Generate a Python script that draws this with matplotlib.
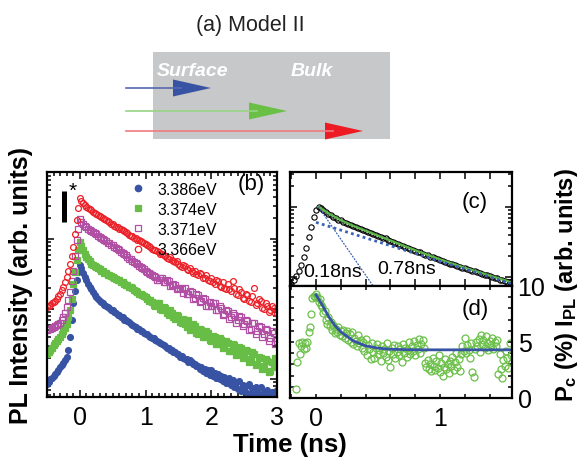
import numpy as np
import matplotlib
matplotlib.use('Agg')
from matplotlib import pyplot as plt
from matplotlib.ticker import MultipleLocator, LogLocator, NullFormatter, FixedLocator
from matplotlib.patches import Rectangle, Polygon

plt.rcParams['font.family'] = ['Liberation Sans', 'DejaVu Sans']
plt.rcParams['mathtext.fontset'] = 'custom'
plt.rcParams['mathtext.rm'] = 'Liberation Sans:bold'
plt.rcParams['mathtext.it'] = 'Liberation Sans:bold'
plt.rcParams['mathtext.bf'] = 'Liberation Sans:bold'

# ---- panel (b): PL transients, log10 of intensity (arb. units) ----
t_b = np.round(np.arange(-0.5, 3.001, 0.025), 3)
labels_b = ['3.386eV', '3.374eV', '3.371eV', '3.366eV']

log_3386 = [-0.07, -0.04, 0.00, 0.02, 0.05, 0.07, 0.10, 0.13, 0.17, 0.20,
            0.23, 0.27, 0.31, 0.42, 0.60, 0.84, 1.08, 1.26, 1.41, 1.53,
            1.63, 1.58, 1.52, 1.46, 1.41, 1.36, 1.32, 1.28, 1.24, 1.20,
            1.17, 1.15, 1.12, 1.10, 1.08, 1.06, 1.04, 1.03, 1.01, 0.99,
            0.98, 0.96, 0.95, 0.92, 0.91, 0.89, 0.88, 0.85, 0.84, 0.83,
            0.81, 0.78, 0.77, 0.76, 0.74, 0.71, 0.71, 0.69, 0.68, 0.66,
            0.65, 0.64, 0.62, 0.60, 0.59, 0.58, 0.56, 0.55, 0.53, 0.51,
            0.50, 0.49, 0.47, 0.44, 0.44, 0.41, 0.41, 0.38, 0.38, 0.36,
            0.36, 0.32, 0.33, 0.30, 0.29, 0.28, 0.25, 0.27, 0.24, 0.21,
            0.22, 0.18, 0.19, 0.14, 0.17, 0.12, 0.14, 0.09, 0.13, 0.06,
            0.13, 0.05, 0.08, 0.02, 0.07, 0.00, 0.04, -0.03, 0.03, -0.06,
            -0.04, 0.02, -0.09, -0.02, -0.12, -0.05, -0.14, -0.03, -0.17, -0.08,
            -0.16, -0.10, -0.20, -0.07, -0.22, -0.13, -0.24, -0.11, -0.19, -0.23,
            -0.12, -0.24, -0.18, -0.25, -0.15, -0.22, -0.24, -0.19, -0.25, -0.21,
            -0.15]
log_3374 = [0.36, 0.39, 0.42, 0.45, 0.48, 0.51, 0.54, 0.57, 0.60, 0.64,
            0.68, 0.73, 0.79, 0.88, 0.98, 1.15, 1.36, 1.53, 1.70, 1.84,
            1.96, 1.90, 1.84, 1.79, 1.74, 1.71, 1.68, 1.65, 1.63, 1.61,
            1.60, 1.58, 1.57, 1.55, 1.54, 1.52, 1.51, 1.49, 1.48, 1.47,
            1.46, 1.44, 1.43, 1.42, 1.41, 1.39, 1.38, 1.36, 1.35, 1.34,
            1.32, 1.31, 1.30, 1.27, 1.26, 1.24, 1.22, 1.22, 1.20, 1.18,
            1.17, 1.14, 1.12, 1.13, 1.10, 1.06, 1.05, 1.09, 1.08, 1.00,
            0.98, 1.03, 1.02, 0.94, 0.92, 0.98, 0.95, 0.88, 0.86, 0.92,
            0.90, 0.82, 0.80, 0.86, 0.78, 0.74, 0.84, 0.70, 0.72, 0.78,
            0.76, 0.66, 0.64, 0.72, 0.70, 0.60, 0.60, 0.68, 0.66, 0.56,
            0.55, 0.62, 0.60, 0.50, 0.50, 0.58, 0.56, 0.44, 0.46, 0.54,
            0.52, 0.40, 0.40, 0.50, 0.48, 0.34, 0.38, 0.46, 0.44, 0.30,
            0.34, 0.42, 0.40, 0.24, 0.28, 0.38, 0.36, 0.20, 0.22, 0.32,
            0.30, 0.14, 0.18, 0.28, 0.26, 0.10, 0.12, 0.24, 0.20, 0.30,
            0.17]
log_3371 = [0.70, 0.71, 0.72, 0.73, 0.75, 0.76, 0.77, 0.78, 0.80, 0.84,
            0.88, 0.95, 1.03, 1.13, 1.25, 1.40, 1.55, 1.76, 1.98, 2.15,
            2.29, 2.25, 2.22, 2.19, 2.17, 2.15, 2.13, 2.12, 2.10, 2.09,
            2.07, 2.05, 2.03, 2.02, 2.00, 1.99, 1.97, 1.95, 1.94, 1.92,
            1.91, 1.89, 1.87, 1.86, 1.84, 1.82, 1.80, 1.79, 1.77, 1.74,
            1.72, 1.71, 1.69, 1.67, 1.66, 1.64, 1.62, 1.60, 1.58, 1.57,
            1.55, 1.53, 1.52, 1.50, 1.49, 1.47, 1.46, 1.42, 1.42, 1.45,
            1.44, 1.38, 1.38, 1.42, 1.40, 1.33, 1.34, 1.36, 1.35, 1.28,
            1.30, 1.30, 1.28, 1.23, 1.30, 1.22, 1.22, 1.26, 1.25, 1.14,
            1.16, 1.21, 1.20, 1.10, 1.12, 1.16, 1.14, 1.04, 1.05, 1.10,
            1.04, 1.08, 1.08, 0.98, 0.98, 1.04, 1.02, 0.92, 0.93, 0.99,
            0.97, 0.86, 0.88, 0.94, 0.92, 0.80, 0.84, 0.90, 0.88, 0.76,
            0.78, 0.84, 0.83, 0.70, 0.72, 0.80, 0.80, 0.64, 0.68, 0.76,
            0.74, 0.60, 0.64, 0.72, 0.70, 0.54, 0.58, 0.68, 0.66, 0.50,
            0.55]
log_3366 = [1.03, 1.04, 1.06, 1.08, 1.10, 1.12, 1.15, 1.18, 1.22, 1.27,
            1.32, 1.38, 1.46, 1.55, 1.65, 1.76, 1.89, 2.07, 2.27, 2.44,
            2.58, 2.55, 2.52, 2.49, 2.46, 2.45, 2.43, 2.41, 2.39, 2.37,
            2.36, 2.35, 2.33, 2.32, 2.30, 2.28, 2.27, 2.26, 2.24, 2.22,
            2.21, 2.19, 2.17, 2.17, 2.15, 2.14, 2.13, 2.11, 2.10, 2.08,
            2.06, 2.05, 2.04, 2.02, 2.01, 1.99, 1.98, 1.97, 1.96, 1.94,
            1.93, 1.92, 1.90, 1.88, 1.86, 1.85, 1.84, 1.83, 1.82, 1.79,
            1.78, 1.77, 1.76, 1.73, 1.72, 1.74, 1.70, 1.68, 1.67, 1.69,
            1.65, 1.62, 1.60, 1.63, 1.62, 1.57, 1.56, 1.59, 1.54, 1.51,
            1.55, 1.50, 1.48, 1.52, 1.50, 1.45, 1.44, 1.48, 1.42, 1.40,
            1.45, 1.38, 1.36, 1.42, 1.40, 1.33, 1.32, 1.38, 1.30, 1.28,
            1.36, 1.28, 1.26, 1.40, 1.30, 1.22, 1.20, 1.28, 1.24, 1.16,
            1.15, 1.22, 1.20, 1.12, 1.10, 1.18, 1.30, 1.06, 1.08, 1.14,
            1.12, 1.02, 1.00, 1.08, 1.05, 0.96, 0.98, 1.04, 1.02, 0.94,
            0.95]

# ---- panel (c): normalised PL at 3.386 eV with bi-exponential fit ----
t_c = np.round(np.arange(-0.2, 1.5801, 0.02), 2)
log_c = [-1.10, -1.05, -0.99, -0.92, -0.83, -0.72, -0.58, -0.43, -0.28, -0.14,
         -0.05, 0.00, -0.02, -0.05, -0.07, -0.10, -0.12, -0.14, -0.16, -0.18,
         -0.19, -0.21, -0.23, -0.24, -0.26, -0.27, -0.29, -0.30, -0.31, -0.33,
         -0.34, -0.36, -0.37, -0.38, -0.40, -0.41, -0.43, -0.44, -0.45, -0.47,
         -0.48, -0.50, -0.51, -0.53, -0.54, -0.56, -0.57, -0.58, -0.60, -0.61,
         -0.63, -0.64, -0.65, -0.67, -0.68, -0.69, -0.71, -0.72, -0.73, -0.75,
         -0.76, -0.77, -0.78, -0.80, -0.81, -0.82, -0.83, -0.84, -0.86, -0.87,
         -0.88, -0.89, -0.90, -0.91, -0.92, -0.93, -0.95, -0.96, -0.97, -0.98,
         -0.99, -1.00, -1.01, -1.02, -1.04, -1.05, -1.06, -1.07, -1.08, -1.09]
fit_t = [0.02, 0.1, 0.2, 0.3, 0.4, 0.6, 0.8, 1.0, 1.2, 1.4, 1.58]
fit_log = [0.0, -0.09, -0.19, -0.27, -0.34, -0.48, -0.62, -0.75, -0.87, -0.98, -1.08]
fast_t = [0.02, 0.46]
fast_log = [0.0, -1.13]
slow_t = [0.0, 1.58]
slow_log = [-0.22, -1.10]

# ---- panel (d): circular polarisation Pc (%) ----
t_d = np.round(np.arange(-0.16, 1.5801, 0.01), 2)
pc_d = [0.8, 3.2, 4.9, 3.9, 4.6, 5.0, 4.4, 4.9, 4.5, 5.0, 5.9, 6.3, 7.5,
        8.9, 9.1, 9.0, 9.3, 9.0, 8.6, 8.8, 8.3, 8.1, 7.6,
        7.8, 7.0, 6.6, 7.2, 6.4, 6.8, 6.1, 6.5, 5.8, 6.2,
        5.9, 6.3, 5.6, 6.0, 5.5, 6.1, 5.4, 5.8, 6.0, 5.2,
        5.7, 5.0, 5.9, 4.8, 5.4, 5.1, 4.6, 5.6, 4.9, 5.2,
        4.5, 5.0, 4.2, 5.3, 3.8, 4.7, 4.4, 3.5, 4.9, 4.1,
        3.6, 4.5, 4.8, 3.9, 4.3, 3.3, 4.6, 4.0, 4.4, 3.7,
        4.9, 3.4, 4.2, 2.8, 4.5, 3.9, 4.7, 3.6, 4.1, 4.6,
        3.8, 4.4, 3.2, 4.8, 4.0, 4.5, 3.7, 4.3, 5.0, 3.9,
        4.6, 4.2, 5.1, 3.8, 4.7, 4.4, 5.3, 4.0, 4.8, 5.2,
        4.5, 3.1, 2.8, 3.4, 2.6, 3.0, 2.4, 3.6, 2.9, 2.5,
        3.3, 2.7, 3.8, 2.3, 3.1, 2.0, 2.8, 3.5, 2.6, 3.0,
        2.2, 3.3, 2.9, 3.7, 2.5, 3.2, 4.0, 2.8, 3.5, 2.4,
        3.9, 4.6, 4.2, 5.4, 4.0, 4.7, 4.3, 3.6, 4.9, 2.3,
        1.9, 4.4, 5.0, 4.6, 5.3, 4.1, 5.6, 4.8, 5.2, 4.5,
        5.5, 4.9, 4.3, 5.1, 4.7, 5.4, 4.4, 5.0, 4.6, 5.2,
        2.1, 3.9, 2.6, 1.8, 3.4, 2.9, 4.2, 3.6, 2.7, 4.9, 3.8, 3.2]
pcfit_t = [0.0, 0.05, 0.1, 0.15, 0.2, 0.3, 0.4, 0.5, 0.6, 0.8, 1.58]
pcfit_v = [9.2, 8.3, 7.3, 6.5, 5.9, 5.1, 4.65, 4.45, 4.35, 4.3, 4.3]

blue = '#3853a3'
green = '#67bd45'
purple = '#b14fa5'
red = '#ec2027'

fig = plt.figure(figsize=(5.8, 4.64), dpi=100)

# ---- (a) schematic, drawn in pixel coordinates ----
ax_a = fig.add_axes([0, 0, 1, 1])
ax_a.set_xlim(0, 580)
ax_a.set_ylim(464, 0)
ax_a.axis('off')
ax_a.text(250, 26, '(a) Model II', fontsize=15.5, ha='center', va='center', color='#222222')
ax_a.add_patch(Rectangle((153, 53), 237, 87, facecolor='#c7c8ca', edgecolor='none'))
ax_a.text(157, 71, 'Surface', color='white', fontsize=14, fontweight='bold',
          fontstyle='italic', ha='left', va='center')
ax_a.text(291, 71, 'Bulk', color='white', fontsize=14, fontweight='bold',
          fontstyle='italic', ha='left', va='center')
arrow_y = [89, 112, 132]
arrow_tip = [211, 287, 363]
arrow_head = [blue, '#6abf45', '#ed1c24']
arrow_line = ['#5468b0', '#97d384', '#f07a80']
for y, tip, hc, lc in zip(arrow_y, arrow_tip, arrow_head, arrow_line):
    ax_a.plot([126, tip - 30], [y, y], color=lc, lw=1.2)
    ax_a.add_patch(Polygon([(tip - 38, y - 8.5), (tip, y), (tip - 38, y + 8.5)],
                           closed=True, facecolor=hc, edgecolor='none'))


def style(ax):
    for s in ax.spines.values():
        s.set_linewidth(1.6)
    ax.tick_params(which='both', direction='in', top=True, right=True, width=1.1)
    ax.tick_params(which='major', length=5, labelsize=18, pad=6)
    ax.tick_params(which='minor', length=3)


# ---- (b) ----
ax_b = fig.add_axes([0.081, 0.1422, 0.3966, 0.4848])
series = [(log_3386, 'o', blue, blue), (log_3374, 's', green, green),
          (log_3371, 's', 'none', purple), (log_3366, 'o', 'none', red)]
for (vals, m, fc, ec), lab in zip(series, labels_b):
    ax_b.plot(t_b, 10 ** np.array(vals), ls='none', marker=m, ms=4.2,
              mfc=fc, mec=ec, mew=0.9, label=lab)
ax_b.set_yscale('log')
ax_b.set_xlim(-0.5, 3.0)
ax_b.set_ylim(10 ** -0.257, 10 ** 2.957)
ax_b.xaxis.set_major_locator(MultipleLocator(1))
ax_b.xaxis.set_minor_locator(MultipleLocator(0.1))
ax_b.yaxis.set_major_locator(LogLocator(base=10))
ax_b.yaxis.set_minor_locator(LogLocator(base=10, subs=np.arange(2, 10)))
ax_b.yaxis.set_major_formatter(NullFormatter())
ax_b.yaxis.set_minor_formatter(NullFormatter())
style(ax_b)
ax_b.set_ylabel('PL Intensity (arb. units)', fontsize=18, fontweight='bold')
ax_b.yaxis.set_label_coords(-0.06, 0.5)
ax_b.legend(loc='upper left', bbox_to_anchor=(0.36, 0.958), frameon=False,
            fontsize=11.5, numpoints=1, handlelength=1.0, handletextpad=0.75,
            labelspacing=0.33, borderpad=0, borderaxespad=0, markerscale=1.1)
ax_b.text(0.887, 0.947, '(b)', transform=ax_b.transAxes, fontsize=16,
          ha='center', va='center')
ax_b.plot([0.072, 0.072], [0.778, 0.916], transform=ax_b.transAxes, color='black',
          lw=3.6, solid_capstyle='butt')
ax_b.text(0.113, 0.918, '*', transform=ax_b.transAxes, fontsize=15,
          ha='center', va='center')

# ---- (c) ----
ax_c = fig.add_axes([0.5, 0.3815, 0.3828, 0.2457])
ax_c.plot(t_c, 10 ** np.array(log_c), ls='none', marker='o', ms=3.8, mfc='none',
          mec='black', mew=0.8)
ax_c.plot(fit_t, 10 ** np.array(fit_log), color='#5cb848', lw=1.6)
ax_c.plot(slow_t, 10 ** np.array(slow_log), color='#3b62b5', lw=2.0, ls=(0, (1, 1.2)))
ax_c.plot(fast_t, 10 ** np.array(fast_log), color='#3b62b5', lw=0.9, ls=(0, (1.5, 1)))
ax_c.set_yscale('log')
ax_c.set_xlim(-0.21, 1.58)
ax_c.set_ylim(10 ** -1.13, 10 ** 0.5)
ax_c.xaxis.set_major_locator(MultipleLocator(0.2))
ax_c.xaxis.set_major_formatter(NullFormatter())
ax_c.yaxis.set_major_locator(LogLocator(base=10))
ax_c.yaxis.set_minor_locator(LogLocator(base=10, subs=np.arange(2, 10)))
ax_c.yaxis.set_major_formatter(NullFormatter())
ax_c.yaxis.set_minor_formatter(NullFormatter())
style(ax_c)
ax_c.text(0.833, 0.737, '(c)', transform=ax_c.transAxes, fontsize=16,
          ha='center', va='center')
ax_c.text(0.059, 0.123, '0.18ns', transform=ax_c.transAxes, fontsize=14,
          ha='left', va='center')
ax_c.text(0.392, 0.149, '0.78ns', transform=ax_c.transAxes, fontsize=14,
          ha='left', va='center')

# ---- (d) ----
ax_d = fig.add_axes([0.5, 0.1401, 0.3828, 0.2414])
ax_d.plot(t_d, pc_d, ls='none', marker='o', ms=5, mfc='none', mec='#6cc04a', mew=0.9)
ax_d.plot(pcfit_t, pcfit_v, color=blue, lw=2.0)
ax_d.set_xlim(-0.21, 1.58)
ax_d.set_ylim(0, 10)
ax_d.xaxis.set_major_locator(FixedLocator([0, 1]))
ax_d.xaxis.set_minor_locator(MultipleLocator(0.2))
ax_d.yaxis.set_major_locator(MultipleLocator(5))
ax_d.yaxis.set_minor_locator(MultipleLocator(1))
style(ax_d)
ax_d.tick_params(which='major', length=3)
ax_d.tick_params(axis='y', labelleft=False, labelright=True, pad=4)
ax_d.text(0.833, 0.795, '(d)', transform=ax_d.transAxes, fontsize=16,
          ha='center', va='center')

fig.text(0.976, 0.386, r'P$_\mathrm{c}$ (%) I$_\mathrm{PL}$ (arb. units)', rotation=90,
         fontsize=17, fontweight='bold', ha='center', va='center')
fig.text(0.5, 0.041, 'Time (ns)', fontsize=18.5, fontweight='bold',
         ha='center', va='center')

fig.savefig('out.png', dpi=100)
